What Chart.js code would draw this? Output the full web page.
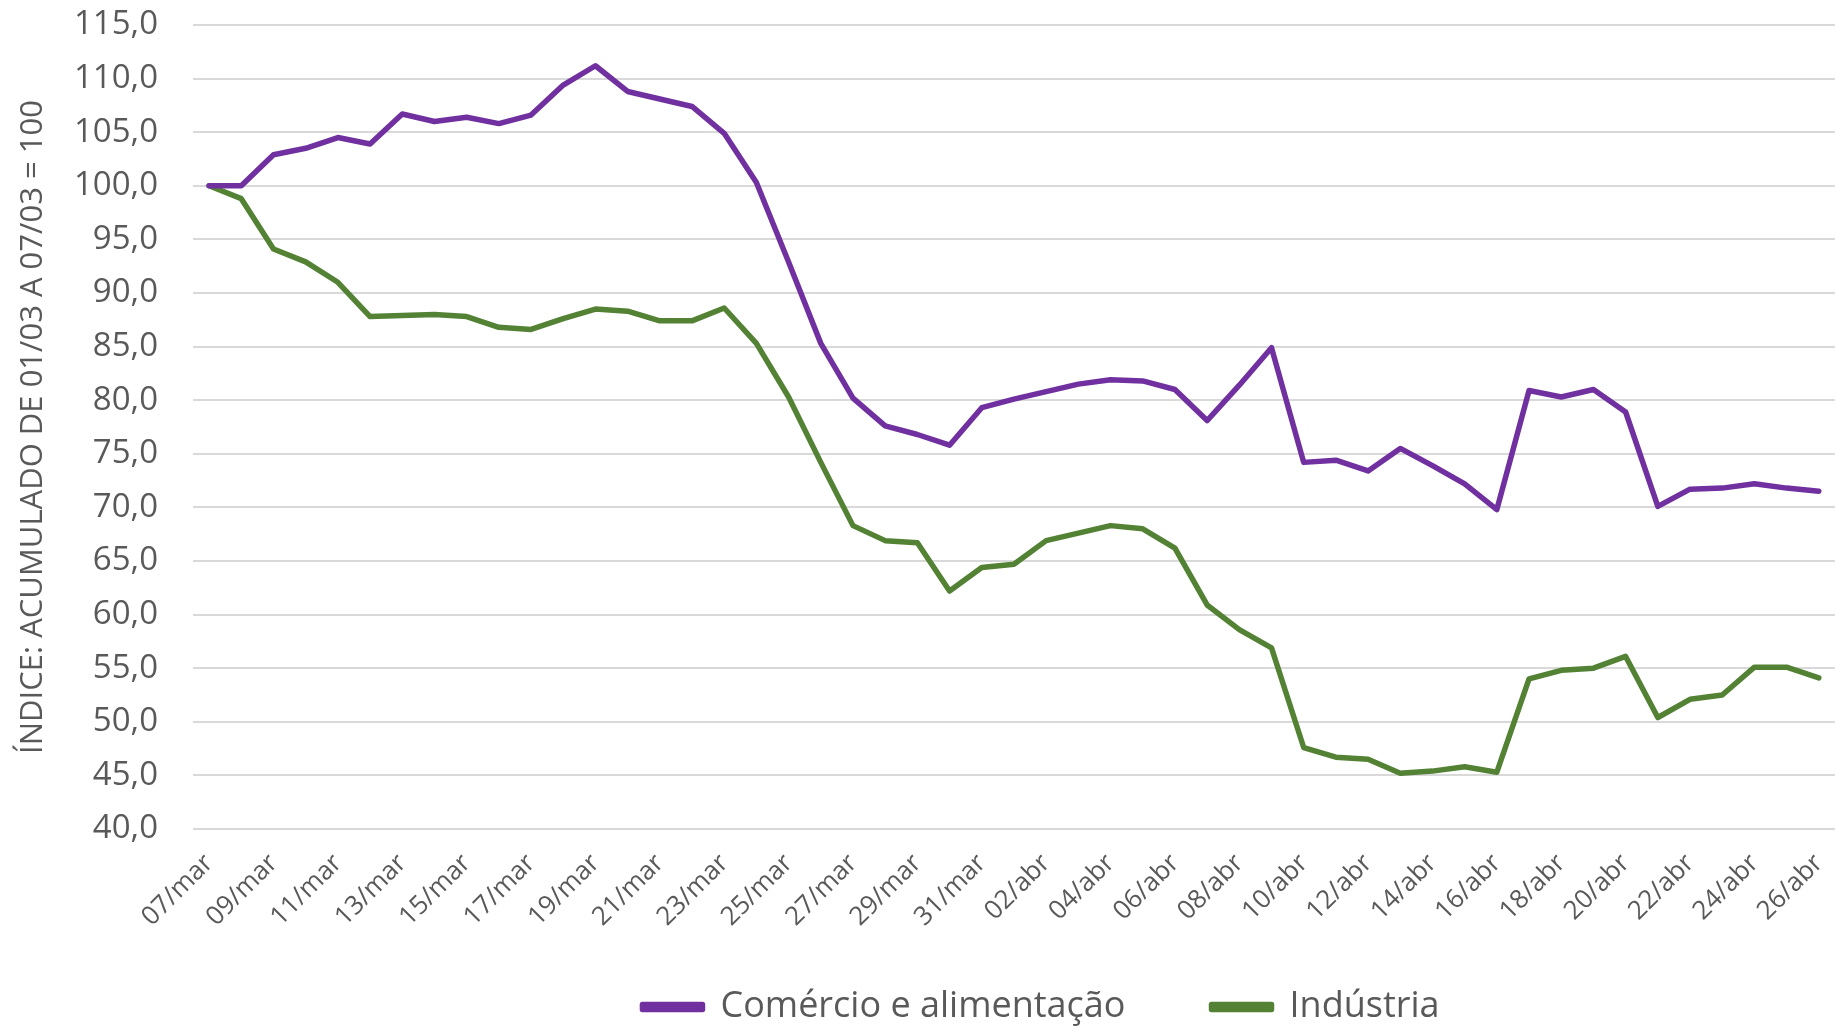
<!DOCTYPE html>
<html>
<head>
<meta charset="utf-8">
<script src="https://cdn.jsdelivr.net/npm/chart.js@4.4.1/dist/chart.umd.min.js"></script>
<style>
  html, body { margin: 0; padding: 0; background: #fff; overflow: hidden; }
  #wrap { width: 1860px; height: 1028px; }
</style>
</head>
<body>
<div id="wrap"><canvas id="plotChart" width="1860" height="1028"></canvas></div>
<script>
// Daily labels, 07/mar to 26/abr
const dias = [
  "07/mar", "08/mar", "09/mar", "10/mar", "11/mar", "12/mar", "13/mar", "14/mar", "15/mar",
  "16/mar", "17/mar", "18/mar", "19/mar", "20/mar", "21/mar", "22/mar", "23/mar", "24/mar",
  "25/mar", "26/mar", "27/mar", "28/mar", "29/mar", "30/mar", "31/mar",
  "01/abr", "02/abr", "03/abr", "04/abr", "05/abr", "06/abr", "07/abr", "08/abr", "09/abr",
  "10/abr", "11/abr", "12/abr", "13/abr", "14/abr", "15/abr", "16/abr", "17/abr", "18/abr",
  "19/abr", "20/abr", "21/abr", "22/abr", "23/abr", "24/abr", "25/abr", "26/abr"
];

// Comércio e alimentação
const comercio = [
  100.0, 100.0, 102.9, 103.5, 104.5, 103.9, 106.7, 106.0, 106.4, 105.8,
  106.6, 109.4, 111.2, 108.8, 108.1, 107.4, 104.9, 100.3, 92.9, 85.3,
  80.2, 77.6, 76.8, 75.8, 79.3, 80.1, 80.8, 81.5, 81.9, 81.8,
  81.0, 78.1, 81.4, 84.9, 74.2, 74.4, 73.4, 75.5, 73.9, 72.2,
  69.8, 80.9, 80.3, 81.0, 78.9, 70.1, 71.7, 71.8, 72.2, 71.8,
  71.5
];

// Indústria
const industria = [
  100.0, 98.8, 94.1, 92.9, 91.0, 87.8, 87.9, 88.0, 87.8, 86.8,
  86.6, 87.6, 88.5, 88.3, 87.4, 87.4, 88.6, 85.3, 80.3, 74.2,
  68.3, 66.9, 66.7, 62.2, 64.4, 64.7, 66.9, 67.6, 68.3, 68.0,
  66.2, 60.9, 58.6, 56.9, 47.6, 46.7, 46.5, 45.2, 45.4, 45.8,
  45.3, 54.0, 54.8, 55.0, 56.1, 50.4, 52.1, 52.5, 55.1, 55.1,
  54.1
];

const yMin = 40;
const yMax = 115;
const yStep = 5;

const corComercio = "#7030a0";
const corIndustria = "#548235";
const corTexto = "#595959";

var ctx = document.getElementById("plotChart").getContext("2d");

// Legend sits off-centre in the original (the chart was wider than the crop)
const legendShift = {
  id: "legendShift",
  afterLayout: (chart) => {
    chart.legend.left += 118;
    chart.legend.right += 118;
  },
};

new Chart(ctx, {
  type: "line",
  data: {
    labels: dias,
    datasets: [
      {
        label: "Comércio e alimentação",
        data: comercio,
        borderColor: corComercio,
        backgroundColor: corComercio,
        borderWidth: 5.5,
      },
      {
        label: "Indústria",
        data: industria,
        borderColor: corIndustria,
        backgroundColor: corIndustria,
        borderWidth: 5.5,
      },
    ],
  },
  plugins: [legendShift],
  options: {
    responsive: false,
    animation: false,
    layout: {
      padding: { top: 25, right: 14, bottom: -7, left: 0 },
    },
    elements: {
      point: { radius: 0 },
      line: { tension: 0, borderJoinStyle: "round", borderCapStyle: "round" },
    },
    plugins: {
      tooltip: { enabled: false },
      legend: {
        position: "bottom",
        labels: {
          font: { family: "Open Sans", size: 36 },
          color: corTexto,
          boxWidth: 60,
          boxHeight: 5,
          padding: 4,
          // empty item in the middle just to open the gap between entries
          generateLabels: (chart) => {
            const items = Chart.defaults.plugins.legend.labels.generateLabels(chart);
            const gap = {
              text: "",
              fillStyle: "rgba(0,0,0,0)",
              strokeStyle: "rgba(0,0,0,0)",
              lineWidth: 0,
              hidden: false,
            };
            return [items[0], gap, items[1]];
          },
        },
      },
    },
    scales: {
      x: {
        offset: true,
        grid: { display: false, drawTicks: false },
        border: { display: false },
        afterFit: (scale) => {
          scale.height = 156;
        },
        ticks: {
          autoSkip: false,
          maxRotation: 45,
          minRotation: 45,
          padding: 19,
          color: corTexto,
          font: { family: "Open Sans", size: 26 },
          // Only every other day gets a label
          callback: function (value, index) {
            return index % 2 === 0 ? this.getLabelForValue(value) : "";
          },
        },
      },
      y: {
        min: yMin,
        max: yMax,
        grid: {
          color: "#d9d9d9",
          lineWidth: 2,
          drawTicks: true,
          tickLength: 35,
          tickColor: "rgba(0,0,0,0)",
        },
        border: { display: false },
        afterFit: (scale) => {
          scale.width = 193;
        },
        title: {
          display: true,
          text: "ÍNDICE: ACUMULADO DE 01/03 A 07/03 = 100",
          color: corTexto,
          font: { family: "Open Sans", size: 31 },
          padding: { top: 15, bottom: 0 },
        },
        ticks: {
          stepSize: yStep,
          padding: 0,
          color: corTexto,
          font: { family: "Open Sans", size: 33 },
          // Decimal comma, one digit
          callback: function (value) {
            return value.toFixed(1).replace(".", ",");
          },
        },
      },
    },
  },
});
</script>
</body>
</html>
